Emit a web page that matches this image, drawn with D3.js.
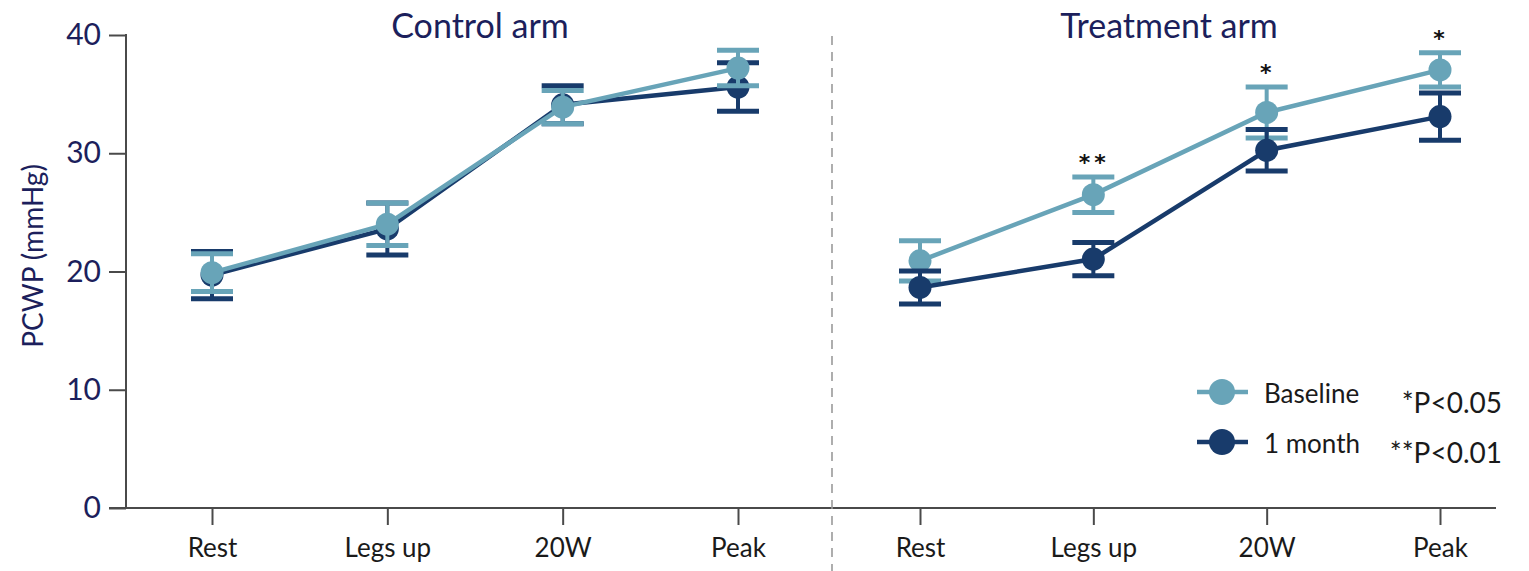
<!DOCTYPE html>
<html>
<head>
<meta charset="utf-8">
<script src="https://cdn.jsdelivr.net/npm/d3@7"></script>
<style>
  html, body { margin: 0; padding: 0; background: #fff; }
  svg { display: block; font-family: Lato, "Open Sans", sans-serif; }
</style>
</head>
<body>
<svg id="chart" width="1529" height="571"></svg>
<script>
// PCWP by exercise stage, baseline vs 1 month, per study arm
const stages = ["Rest", "Legs up", "20W", "Peak"];
const yTicks = [0, 10, 20, 30, 40];

const controlBaseline    = [19.9, 24.0, 33.9, 37.2];
const controlBaselineErr = [1.6, 1.8, 1.4, 1.5];
const controlMonth       = [19.7, 23.6, 34.1, 35.6];
const controlMonthErr    = [2.0, 2.2, 1.6, 2.05];

const treatBaseline      = [20.9, 26.5, 33.45, 37.05];
const treatBaselineErr   = [1.7, 1.5, 2.15, 1.45];
const treatMonth         = [18.65, 21.05, 30.25, 33.1];
const treatMonthErr      = [1.4, 1.4, 1.75, 2.0];

const treatSignificance  = ["", "**", "*", "*"];

const seriesNames = ["Baseline", "1 month"];
const pLabels = ["*P<0.05", "**P<0.01"];

const COLOR_BASE = "#68a4b8";
const COLOR_MONTH = "#183b6b";
const NAVY = "#1c1f5c";

const svg = d3.select("#chart");

const y = d3.scaleLinear().domain([0, 40]).range([508, 35]);

const panels = [
  {
    title: "Control arm", titleX: 480,
    x: d3.scalePoint().domain(stages).range([212, 738]),
    series: [
      { name: "Baseline", values: controlBaseline, err: controlBaselineErr, color: COLOR_BASE },
      { name: "1 month", values: controlMonth, err: controlMonthErr, color: COLOR_MONTH }
    ],
    // baseline sits on top in this panel
    order: [1, 0],
    sig: null
  },
  {
    title: "Treatment arm", titleX: 1169,
    x: d3.scalePoint().domain(stages).range([920, 1440]),
    series: [
      { name: "Baseline", values: treatBaseline, err: treatBaselineErr, color: COLOR_BASE },
      { name: "1 month", values: treatMonth, err: treatMonthErr, color: COLOR_MONTH }
    ],
    order: [0, 1],
    sig: treatSignificance
  }
];

// y axis
const yAxis = svg.append("g")
  .attr("transform", "translate(126,0)")
  .call(d3.axisLeft(y).tickValues(yTicks).tickSize(17).tickPadding(8).tickFormat(d3.format("d")));
yAxis.select(".domain").remove();
yAxis.selectAll(".tick line").attr("stroke", "#4a4a4a").attr("stroke-width", 2);
yAxis.selectAll(".tick text")
  .attr("fill", NAVY).attr("font-size", 30).attr("font-family", "Lato, sans-serif");
svg.append("line")
  .attr("x1", 126).attr("x2", 126).attr("y1", y(40) - 1).attr("y2", y(0))
  .attr("stroke", "#4a4a4a").attr("stroke-width", 2);

// x axis baseline spanning both panels
svg.append("line")
  .attr("x1", 109).attr("x2", 1496).attr("y1", y(0)).attr("y2", y(0))
  .attr("stroke", "#4a4a4a").attr("stroke-width", 2);

// y axis title
svg.append("text")
  .attr("transform", `translate(43,${256}) rotate(-90)`)
  .attr("text-anchor", "middle")
  .attr("fill", NAVY).attr("font-size", 28)
  .text("PCWP (mmHg)");

// panel divider
svg.append("line")
  .attr("x1", 832).attr("x2", 832).attr("y1", 36).attr("y2", 571)
  .attr("stroke", "#9a9a9a").attr("stroke-width", 1.6).attr("stroke-dasharray", "9,7");

const capHalf = 21;

panels.forEach(p => {
  // x axis ticks and labels
  const xa = svg.append("g")
    .attr("transform", `translate(0,${y(0)})`)
    .call(d3.axisBottom(p.x).tickSize(17).tickPadding(14));
  xa.select(".domain").remove();
  xa.selectAll(".tick line").attr("stroke", "#4a4a4a").attr("stroke-width", 2);
  xa.selectAll(".tick text")
    .attr("fill", "#1a1a1a").attr("font-size", 26).attr("font-family", "Lato, sans-serif");

  // panel title
  svg.append("text")
    .attr("x", p.titleX).attr("y", 38)
    .attr("text-anchor", "middle")
    .attr("fill", NAVY).attr("font-size", 34)
    .text(p.title);

  const line = d3.line().x((d, i) => p.x(stages[i])).y(d => y(d));

  p.order.forEach(si => {
    const s = p.series[si];
    const g = svg.append("g").attr("class", "series");
    const pts = s.values.map((v, i) => ({ stage: stages[i], v, e: s.err[i] }));

    // error bars
    const eb = g.selectAll(".err").data(pts).enter().append("g");
    eb.append("line")
      .attr("x1", d => p.x(d.stage)).attr("x2", d => p.x(d.stage))
      .attr("y1", d => y(d.v + d.e)).attr("y2", d => y(d.v - d.e))
      .attr("stroke", s.color).attr("stroke-width", 4);
    [1, -1].forEach(sign => {
      eb.append("line")
        .attr("x1", d => p.x(d.stage) - capHalf).attr("x2", d => p.x(d.stage) + capHalf)
        .attr("y1", d => y(d.v + sign * d.e)).attr("y2", d => y(d.v + sign * d.e))
        .attr("stroke", s.color).attr("stroke-width", 5);
    });

    // connecting line
    g.append("path")
      .datum(s.values)
      .attr("d", line)
      .attr("fill", "none").attr("stroke", s.color).attr("stroke-width", 4.5);

    // markers
    g.selectAll("circle").data(pts).enter().append("circle")
      .attr("cx", d => p.x(d.stage)).attr("cy", d => y(d.v))
      .attr("r", 11.5).attr("fill", s.color);
  });

  // significance marks above the baseline error bars
  if (p.sig) {
    const base = p.series[0];
    svg.selectAll(null).data(p.sig.map((t, i) => ({ t, i }))).enter()
      .filter(d => d.t)
      .append("text")
      .attr("x", d => p.x(stages[d.i]) + 1)
      .attr("y", d => y(base.values[d.i] + base.err[d.i]) - 7)
      .attr("text-anchor", "middle")
      .attr("fill", "#111").attr("font-size", 22).attr("font-weight", 700)
      .attr("font-family", "'DejaVu Sans', sans-serif")
      .attr("letter-spacing", 4)
      .text(d => d.t);
  }
});

// legend
const legend = svg.append("g");
[COLOR_BASE, COLOR_MONTH].forEach((c, i) => {
  const ly = 392 + i * 50;
  legend.append("line").attr("x1", 1197).attr("x2", 1248).attr("y1", ly).attr("y2", ly)
    .attr("stroke", c).attr("stroke-width", 4.5);
  legend.append("circle").attr("cx", 1222).attr("cy", ly).attr("r", 13).attr("fill", c);
  legend.append("text").attr("x", 1264).attr("y", ly + 11)
    .attr("fill", "#1a1a1a").attr("font-size", 26).text(seriesNames[i]);
  legend.append("text").attr("x", 1502).attr("y", ly + 21)
    .attr("text-anchor", "end")
    .attr("fill", "#1a1a1a").attr("font-size", 28).text(pLabels[i]);
});
</script>
</body>
</html>
